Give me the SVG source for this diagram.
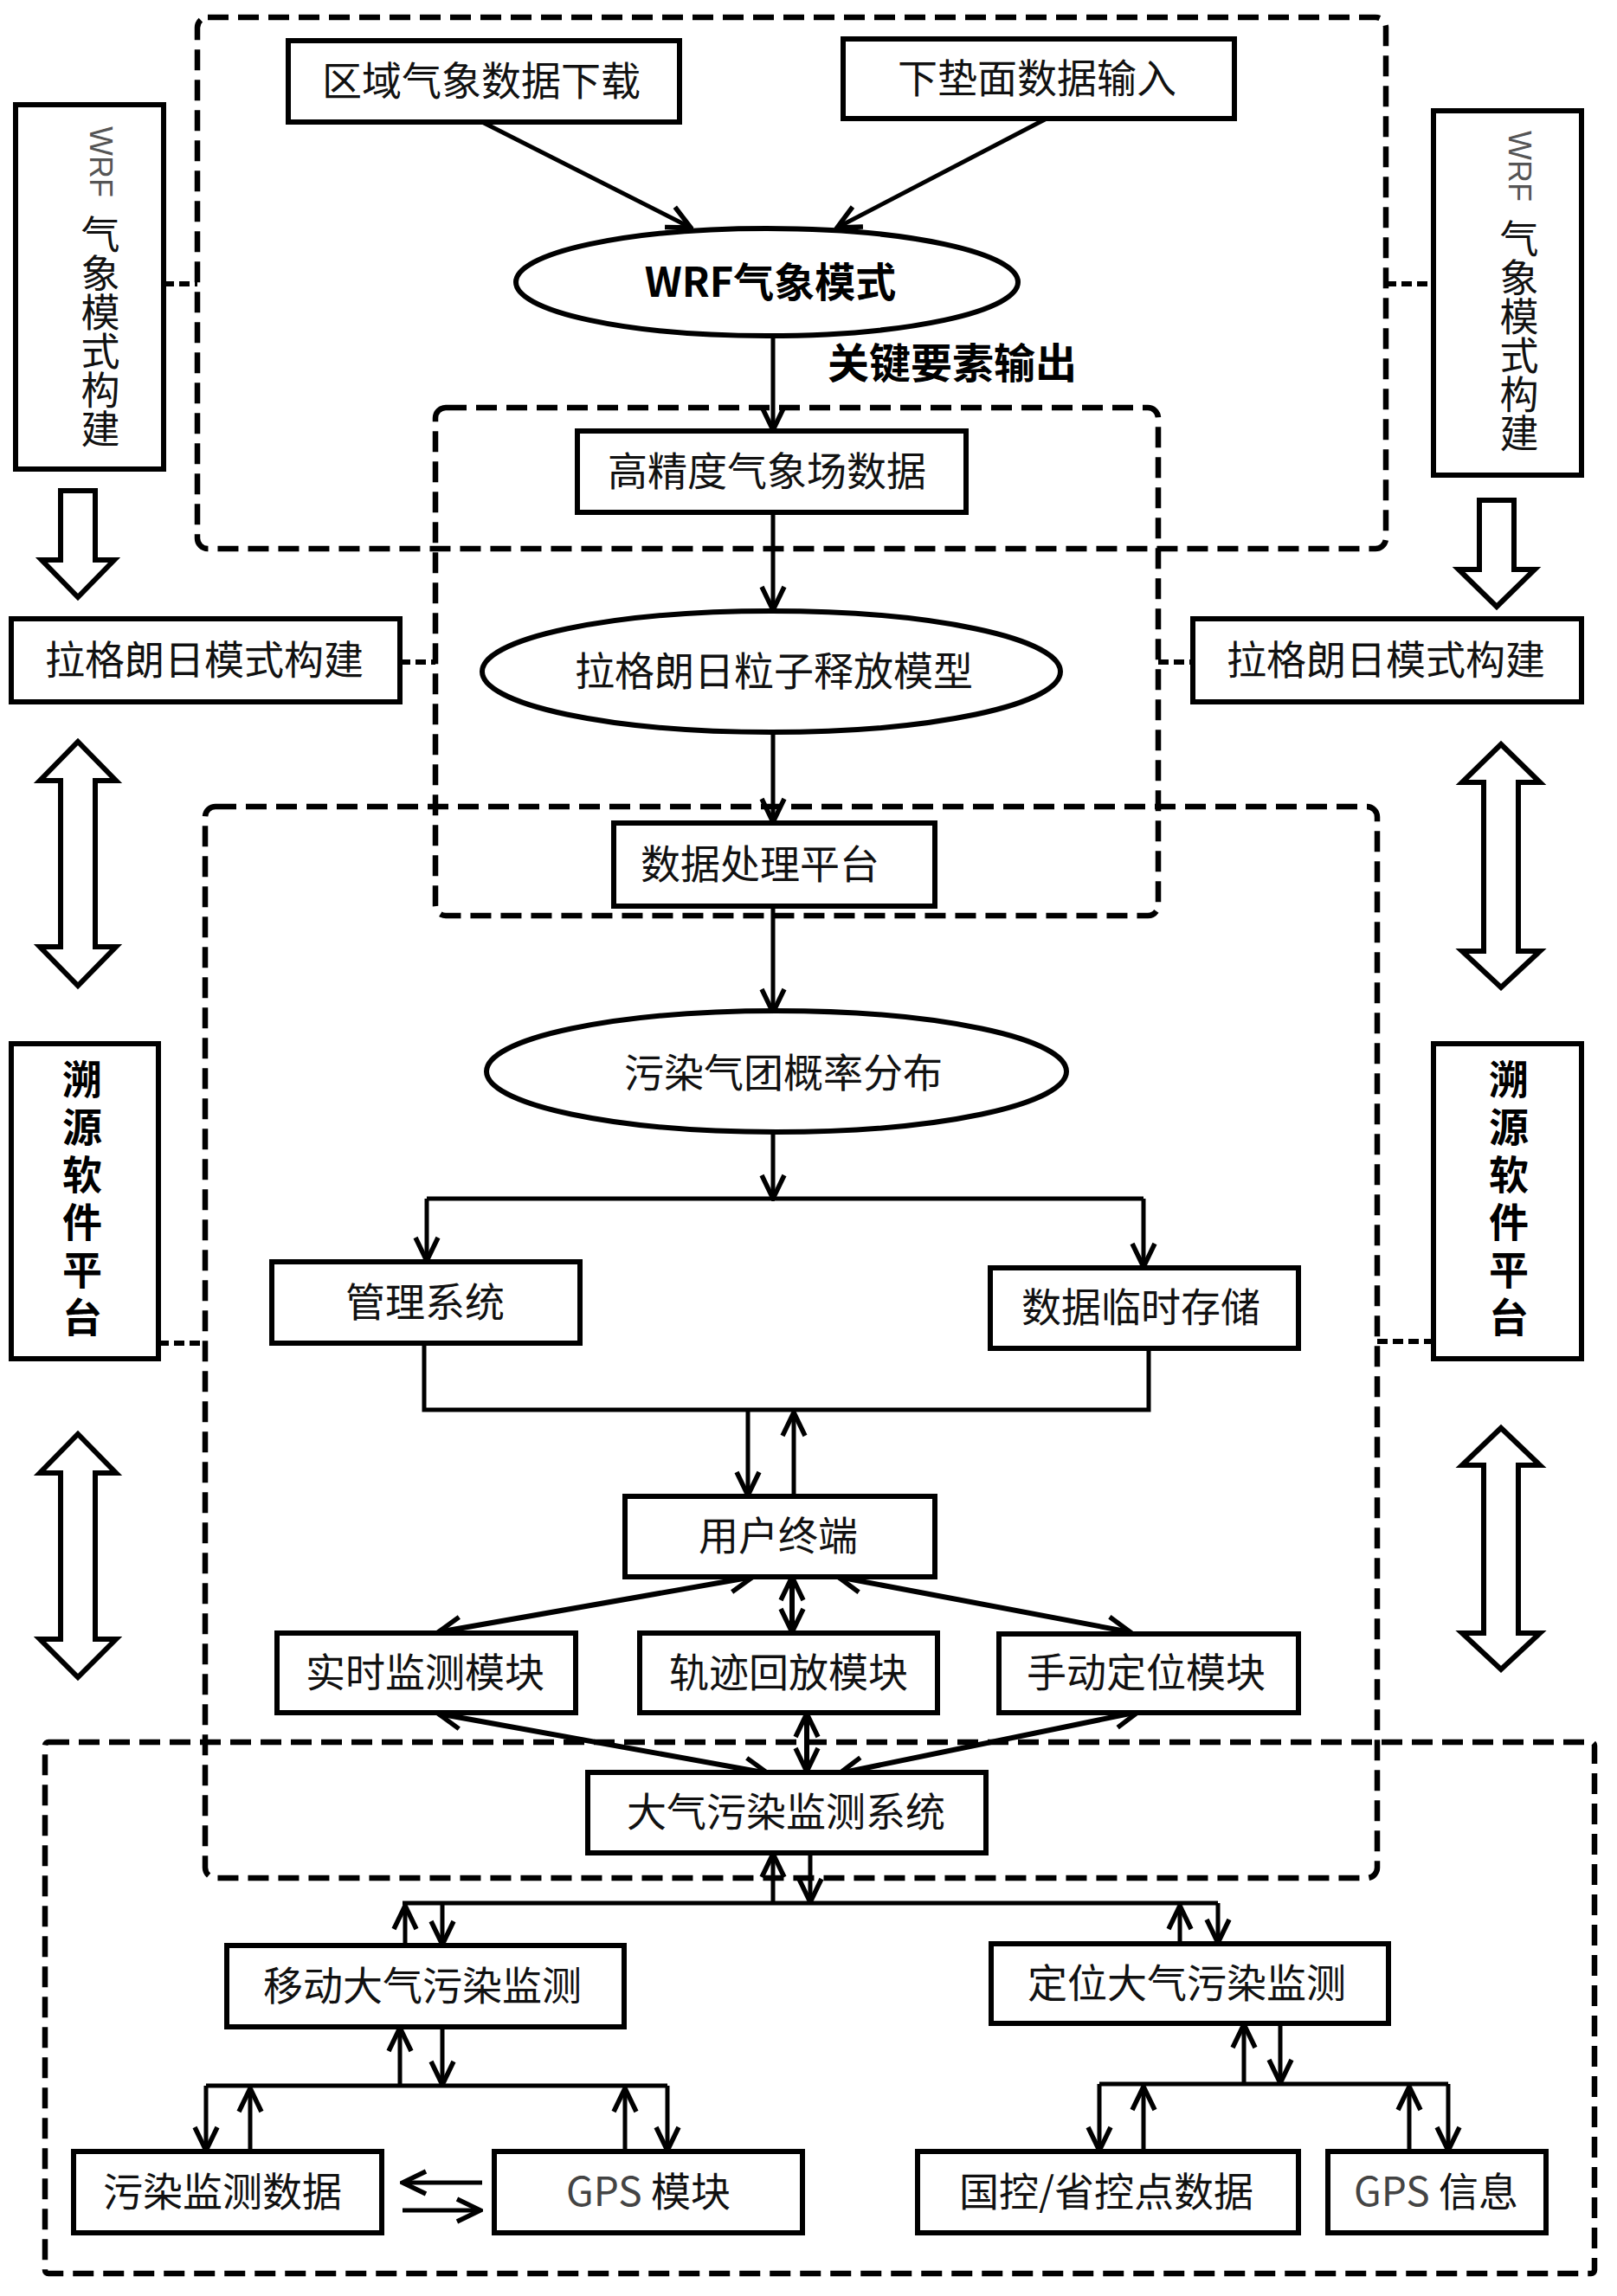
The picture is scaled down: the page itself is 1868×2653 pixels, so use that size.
<svg xmlns="http://www.w3.org/2000/svg" width="1868" height="2653" viewBox="0 0 1868 2653">
<defs>
<style>
.box{fill:#fff;stroke:#000;stroke-width:6}
.ell{fill:#fff;stroke:#000;stroke-width:6}
.dash{fill:none;stroke:#000;stroke-width:6.5;stroke-dasharray:24,11}
.stub{fill:none;stroke:#000;stroke-width:6;stroke-dasharray:12,6}
.ln{fill:none;stroke:#000;stroke-width:5}
.ar{fill:none;stroke:#000;stroke-width:5;marker-end:url(#ah)}
.da{fill:none;stroke:#000;stroke-width:6;marker-end:url(#ah);marker-start:url(#ah)}
.hol{fill:#fff;stroke:#000;stroke-width:6;stroke-linejoin:miter}
.t{font-family:"Noto Sans CJK SC","Liberation Sans",sans-serif;font-size:46px;fill:#111;text-anchor:middle}
.v{font-family:"Noto Sans CJK SC","Liberation Sans",sans-serif;font-size:45px;fill:#111;writing-mode:vertical-rl;text-anchor:start}
.w{font-family:"Liberation Sans",sans-serif;font-size:36px;fill:#555}
.b{font-weight:bold;fill:#000}
.g{fill:#444}
</style>
<marker id="ah" markerUnits="userSpaceOnUse" viewBox="0 0 34 34" refX="31" refY="17" markerWidth="34" markerHeight="34" orient="auto-start-reverse">
<path d="M4,4 L31,17 L4,30" fill="none" stroke="#000" stroke-width="5.5"/>
</marker>
</defs>

<!-- dashed groups -->
<g id="groups">
<rect class="dash" x="228" y="20" width="1373" height="614" rx="12"/>
<rect class="dash" x="503" y="471" width="835" height="587" rx="12"/>
<rect class="dash" x="237" y="932" width="1354" height="1238" rx="12"/>
<rect class="dash" x="52" y="2013" width="1790" height="614" rx="4"/>
</g>

<g id="connectors">
<line class="ar" x1="557" y1="141" x2="798" y2="263"/>
<line class="ar" x1="1209" y1="137" x2="967" y2="263"/>
<line class="ar" x1="893" y1="388" x2="893" y2="497"/>
<line class="ar" x1="893" y1="592" x2="893" y2="705"/>
<line class="ar" x1="893" y1="846" x2="893" y2="950"/>
<line class="ar" x1="893" y1="1047" x2="893" y2="1170"/>
<line class="ar" x1="893" y1="1308" x2="893" y2="1385"/>
<polyline class="ln" points="493,1385 1321,1385"/>
<line class="ar" x1="493" y1="1385" x2="493" y2="1457"/>
<line class="ar" x1="1321" y1="1385" x2="1321" y2="1464"/>
<polyline class="ln" points="490,1552 490,1629 1327,1629 1327,1558"/>
<line class="ar" x1="864" y1="1629" x2="864" y2="1728"/>
<line class="ar" x1="917" y1="1729" x2="917" y2="1632"/>
<line class="da" x1="870" y1="1822" x2="506" y2="1886"/>
<line class="da" x1="915" y1="1822" x2="915" y2="1886"/>
<line class="da" x1="968" y1="1822" x2="1306" y2="1886"/>
<line class="da" x1="506" y1="1980" x2="887" y2="2049"/>
<line class="da" x1="932" y1="1980" x2="932" y2="2047"/>
<line class="da" x1="1315" y1="1978" x2="970" y2="2049"/>
<line class="ar" x1="893" y1="2199" x2="893" y2="2142"/>
<line class="ar" x1="936" y1="2141" x2="936" y2="2198"/>
<polyline class="ln" points="465,2199 1407,2199"/>
<line class="ar" x1="468" y1="2248" x2="468" y2="2202"/>
<line class="ar" x1="511" y1="2199" x2="511" y2="2247"/>
<line class="ar" x1="1363" y1="2246" x2="1363" y2="2202"/>
<line class="ar" x1="1407" y1="2199" x2="1407" y2="2245"/>
<line class="ar" x1="462" y1="2410" x2="462" y2="2343"/>
<line class="ar" x1="511" y1="2342" x2="511" y2="2409"/>
<polyline class="ln" points="238,2410 771,2410"/>
<line class="ar" x1="238" y1="2410" x2="238" y2="2485"/>
<line class="ar" x1="289" y1="2486" x2="289" y2="2413"/>
<line class="ar" x1="722" y1="2486" x2="722" y2="2413"/>
<line class="ar" x1="771" y1="2410" x2="771" y2="2485"/>
<line class="ar" x1="557" y1="2522" x2="465" y2="2522"/>
<line class="ar" x1="465" y1="2554" x2="555" y2="2554"/>
<line class="ar" x1="1437" y1="2408" x2="1437" y2="2339"/>
<line class="ar" x1="1479" y1="2338" x2="1479" y2="2407"/>
<polyline class="ln" points="1270,2408 1673,2408"/>
<line class="ar" x1="1270" y1="2408" x2="1270" y2="2485"/>
<line class="ar" x1="1321" y1="2486" x2="1321" y2="2411"/>
<line class="ar" x1="1628" y1="2486" x2="1628" y2="2411"/>
<line class="ar" x1="1673" y1="2408" x2="1673" y2="2485"/>
<!-- side dashed stubs -->
<line class="stub" x1="189" y1="328" x2="228" y2="328"/>
<line class="stub" x1="1601" y1="328" x2="1656" y2="328"/>
<line class="stub" x1="462" y1="765" x2="503" y2="765"/>
<line class="stub" x1="1338" y1="765" x2="1378" y2="765"/>
<line class="stub" x1="183" y1="1552" x2="237" y2="1552"/>
<line class="stub" x1="1591" y1="1550" x2="1656" y2="1550"/>
<!-- hollow arrows -->
<polygon class="hol" points="70,567 110,567 110,647 132,647 90,690 48,647 70,647"/>
<polygon class="hol" points="1709,578 1749,578 1749,658 1773,658 1729,701 1685,658 1709,658"/>
<polygon class="hol" points="90,857 134,902 110,902 110,1094 134,1094 90,1139 46,1094 70,1094 70,902 46,902"/>
<polygon class="hol" points="1734,860 1779,904 1754,904 1754,1099 1779,1099 1734,1141 1689,1099 1714,1099 1714,904 1689,904"/>
<polygon class="hol" points="90,1657 134,1702 110,1702 110,1894 134,1894 90,1938 46,1894 70,1894 70,1702 46,1702"/>
<polygon class="hol" points="1734,1650 1779,1693 1754,1693 1754,1887 1779,1887 1734,1929 1689,1887 1714,1887 1714,1693 1689,1693"/>
</g>

<g id="n-wrf-left">
<rect class="box" x="18" y="121" width="171" height="421"/>
<text class="v" x="116" y="146"><tspan class="w">WRF</tspan><tspan y="248">气象模式构建</tspan></text>
</g>
<g id="n-wrf-right">
<rect class="box" x="1656" y="128" width="171" height="421"/>
<text class="v" x="1755" y="151"><tspan class="w">WRF</tspan><tspan y="253">气象模式构建</tspan></text>
</g>
<g id="n-region">
<rect class="box" x="333" y="47" width="452" height="94"/>
<text class="t" x="556" y="110">区域气象数据下载</text>
</g>
<g id="n-surface">
<rect class="box" x="974" y="45" width="452" height="92"/>
<text class="t" x="1198" y="107">下垫面数据输入</text>
</g>
<g id="n-wrf-model">
<ellipse class="ell" cx="886" cy="326" rx="290" ry="62"/>
<text class="t b" x="890" y="343" style="font-size:47px">WRF气象模式</text>
</g>
<g id="n-key-label">
<text class="t b" x="956" y="437" style="font-size:48px;text-anchor:start">关键要素输出</text>
</g>
<g id="n-hires">
<rect class="box" x="667" y="498" width="449" height="94"/>
<text class="t" x="886" y="561">高精度气象场数据</text>
</g>
<g id="n-lag-left">
<rect class="box" x="13" y="715" width="449" height="96"/>
<text class="t" x="236" y="779">拉格朗日模式构建</text>
</g>
<g id="n-lag-right">
<rect class="box" x="1378" y="715" width="449" height="96"/>
<text class="t" x="1601" y="779">拉格朗日模式构建</text>
</g>
<g id="n-lag-model">
<ellipse class="ell" cx="891" cy="776" rx="334" ry="70"/>
<text class="t" x="894" y="792">拉格朗日粒子释放模型</text>
</g>
<g id="n-dataproc">
<rect class="box" x="709" y="951" width="371" height="96"/>
<text class="t" x="878" y="1015">数据处理平台</text>
</g>
<g id="n-prob">
<ellipse class="ell" cx="897" cy="1238" rx="335" ry="70"/>
<text class="t" x="905" y="1256">污染气团概率分布</text>
</g>
<g id="n-trace-left">
<rect class="box" x="13" y="1206" width="170" height="364"/>
<text class="v b" x="95" y="1224" style="font-size:46px;letter-spacing:9px">溯源软件平台</text>
</g>
<g id="n-trace-right">
<rect class="box" x="1656" y="1206" width="171" height="364"/>
<text class="v b" x="1743" y="1224" style="font-size:46px;letter-spacing:9px">溯源软件平台</text>
</g>
<g id="n-mgmt">
<rect class="box" x="314" y="1458" width="356" height="94"/>
<text class="t" x="491" y="1521">管理系统</text>
</g>
<g id="n-store">
<rect class="box" x="1144" y="1465" width="356" height="93"/>
<text class="t" x="1318" y="1527">数据临时存储</text>
</g>
<g id="n-user">
<rect class="box" x="722" y="1729" width="358" height="93"/>
<text class="t" x="899" y="1791">用户终端</text>
</g>
<g id="n-realtime">
<rect class="box" x="320" y="1887" width="345" height="92"/>
<text class="t" x="491" y="1949">实时监测模块</text>
</g>
<g id="n-replay">
<rect class="box" x="739" y="1887" width="344" height="92"/>
<text class="t" x="911" y="1949">轨迹回放模块</text>
</g>
<g id="n-manual">
<rect class="box" x="1154" y="1888" width="346" height="91"/>
<text class="t" x="1324" y="1949">手动定位模块</text>
</g>
<g id="n-airsys">
<rect class="box" x="679" y="2048" width="460" height="93"/>
<text class="t" x="908" y="2110">大气污染监测系统</text>
</g>
<g id="n-mobile">
<rect class="box" x="262" y="2248" width="459" height="94"/>
<text class="t" x="488" y="2311">移动大气污染监测</text>
</g>
<g id="n-fixed">
<rect class="box" x="1145" y="2246" width="459" height="92"/>
<text class="t" x="1371" y="2308">定位大气污染监测</text>
</g>
<g id="n-pdata">
<rect class="box" x="85" y="2486" width="356" height="94"/>
<text class="t" x="257" y="2549">污染监测数据</text>
</g>
<g id="n-gps-mod">
<rect class="box" x="571" y="2486" width="356" height="94"/>
<text class="t" x="749" y="2549"><tspan class="g">GPS</tspan> 模块</text>
</g>
<g id="n-ctrl">
<rect class="box" x="1060" y="2486" width="440" height="94"/>
<text class="t" x="1278" y="2549">国控/省控点数据</text>
</g>
<g id="n-gps-info">
<rect class="box" x="1534" y="2486" width="252" height="94"/>
<text class="t" x="1659" y="2549"><tspan class="g">GPS</tspan> 信息</text>
</g>
</svg>
